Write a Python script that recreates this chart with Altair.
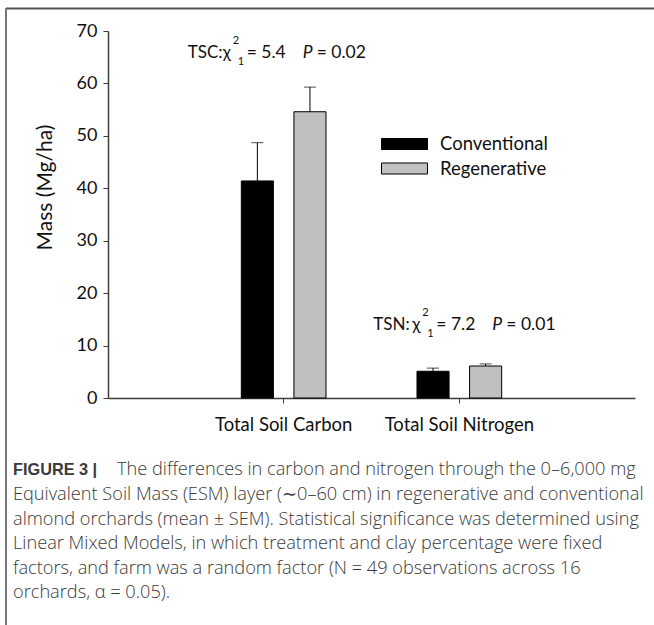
import altair as alt
import pandas as pd

# ---- data ----
categories = ["Total Soil Carbon", "Total Soil Nitrogen"]
treatments = ["Conventional", "Regenerative"]
conventional_mean = [41.4, 5.1]
regenerative_mean = [54.6, 6.1]
conventional_sem = [7.3, 0.6]
regenerative_sem = [4.7, 0.4]
y_ticks = [0, 10, 20, 30, 40, 50, 60, 70]

annot_prefix = ["TSC:", "TSN:"]
annot_chi = ["= 5.4", "= 7.2"]
annot_p = ["= 0.02", "= 0.01"]
annot_y = [65.8, 13.9]

caption_bold = "FIGURE 3 |"
caption_first = "The differences in carbon and nitrogen through the 0–6,000 mg"
caption_rest = [
    "Equivalent Soil Mass (ESM) layer (∼0–60 cm) in regenerative and conventional",
    "almond orchards (mean ± SEM). Statistical significance was determined using",
    "Linear Mixed Models, in which treatment and clay percentage were fixed",
    "factors, and farm was a random factor (N = 49 observations across 16",
    "orchards, α = 0.05).",
]

rows = []
for i, c in enumerate(categories):
    rows.append({"category": c, "treatment": "Conventional",
                 "mean": conventional_mean[i], "upper": conventional_mean[i] + conventional_sem[i]})
    rows.append({"category": c, "treatment": "Regenerative",
                 "mean": regenerative_mean[i], "upper": regenerative_mean[i] + regenerative_sem[i]})
df = pd.DataFrame(rows)

ann_df = pd.DataFrame({"category": categories, "y": annot_y, "prefix": annot_prefix,
                       "chi": annot_chi, "p": annot_p})
one = pd.DataFrame({"k": [0]})

FONT = "Lato"
AXIS_COLOR = "#3c3c3c"

x_enc = alt.X("category:N", sort=categories,
              scale=alt.Scale(paddingInner=0, paddingOuter=0.5),
              axis=alt.Axis(title=None, labelAngle=0, labelFont=FONT, labelFontSize=18.5,
                            labelColor="#111", labelPadding=12, tickSize=5,
                            tickColor=AXIS_COLOR, domainColor=AXIS_COLOR, domainWidth=1.5))
xo_enc = alt.XOffset("treatment:N", sort=treatments,
                     scale=alt.Scale(paddingInner=0.39, paddingOuter=0.865))
y_scale = alt.Scale(domain=[0, 70], nice=False, zero=True)

bars = alt.Chart(df).mark_bar(stroke="#000", strokeWidth=1).encode(
    x=x_enc, xOffset=xo_enc,
    y=alt.Y("mean:Q", scale=y_scale,
            axis=alt.Axis(values=y_ticks, title="Mass (Mg/ha)", grid=False,
                          labelFont=FONT, labelFontSize=18, labelColor="#111",
                          labelPadding=6, tickSize=5, tickColor=AXIS_COLOR,
                          domainColor=AXIS_COLOR, domainWidth=1.5,
                          titleFont=FONT, titleFontSize=21, titleFontWeight="normal",
                          titleColor="#111", titleAngle=-90, titleX=-63, titleY=156,
                          titleAlign="center", titleBaseline="middle")),
    color=alt.Color("treatment:N", sort=treatments,
                    scale=alt.Scale(domain=treatments, range=["#000000", "#c0c0c0"]),
                    legend=alt.Legend(title=None, orient="none", legendX=273, legendY=101,
                                      symbolType="M-1,-0.24H1V0.24H-1Z", symbolSize=2116,
                                      symbolStrokeColor="#000", symbolStrokeWidth=1,
                                      labelFont=FONT, labelFontSize=18.5, labelColor="#111",
                                      labelOffset=12, clipHeight=24, rowPadding=0.5)),
)

err = alt.Chart(df).mark_rule(color="#000", strokeWidth=1).encode(
    x=x_enc, xOffset=xo_enc, y="mean:Q", y2="upper:Q")
caps = alt.Chart(df).mark_tick(color="#000", thickness=1, size=12, orient="horizontal").encode(
    x=x_enc, xOffset=xo_enc, y="upper:Q")


def annotation(cat, base_dx, gap):
    b = alt.Chart(ann_df).transform_filter(alt.datum.category == cat).encode(
        x=alt.X("category:N", sort=categories), y=alt.Y("y:Q"))
    common = dict(align="left", baseline="middle", font=FONT, color="#111")
    d = base_dx + gap
    return [
        b.mark_text(dx=base_dx, fontSize=17, **common).encode(text="prefix:N"),
        b.mark_text(dx=d + 35, fontSize=17, **common).encode(text=alt.value("χ")),
        b.mark_text(dx=d + 45, dy=-12, fontSize=11, **common).encode(text=alt.value("2")),
        b.mark_text(dx=d + 50, dy=9, fontSize=11, **common).encode(text=alt.value("1")),
        b.mark_text(dx=d + 59, fontSize=17.5, **common).encode(text="chi:N"),
        b.mark_text(dx=d + 115, fontSize=17.5, fontStyle="italic", **common).encode(text=alt.value("P")),
        b.mark_text(dx=d + 129, fontSize=17.5, **common).encode(text="p:N"),
    ]


ann_layers = annotation(categories[0], -96, 0) + annotation(categories[1], -86, 4)

CAP_FONT = "Open Sans"
cap_common = dict(align="left", baseline="middle", color="#3a3a3a")
cap_bold = alt.Chart(one).mark_text(fontWeight="bold", font="Liberation Sans", fontSize=16.3,
                                    **cap_common).encode(
    x=alt.value(-95), y=alt.value(439), text=alt.value(caption_bold))
cap_first = alt.Chart(one).mark_text(font=CAP_FONT, fontSize=18.2, fontWeight=300,
                                     **cap_common).encode(
    x=alt.value(9), y=alt.value(439), text=alt.value(caption_first))
cap_rest = alt.Chart(one).mark_text(lineHeight=24.6, font=CAP_FONT, fontSize=18.2, fontWeight=300,
                                    **cap_common).encode(
    x=alt.value(-95), y=alt.value(464), text=alt.value(caption_rest))

border_top = alt.Chart(one).mark_rule(color="#555", strokeWidth=2).encode(
    x=alt.value(-102), x2=alt.value(546), y=alt.value(-22.5))
border_left = alt.Chart(one).mark_rule(color="#777", strokeWidth=2).encode(
    x=alt.value(-102), y=alt.value(-23), y2=alt.value(594))

chart = alt.layer(bars, err, caps, *ann_layers, cap_bold, cap_first, cap_rest,
                  border_top, border_left).properties(
    width=527, height=367,
    autosize=alt.AutoSizeParams(type="none"),
    padding={"left": 108, "top": 31, "right": 19, "bottom": 227},
    background="white",
).configure_view(stroke=None)

chart.save("out.html", embed_options={"renderer": "svg", "actions": False})
